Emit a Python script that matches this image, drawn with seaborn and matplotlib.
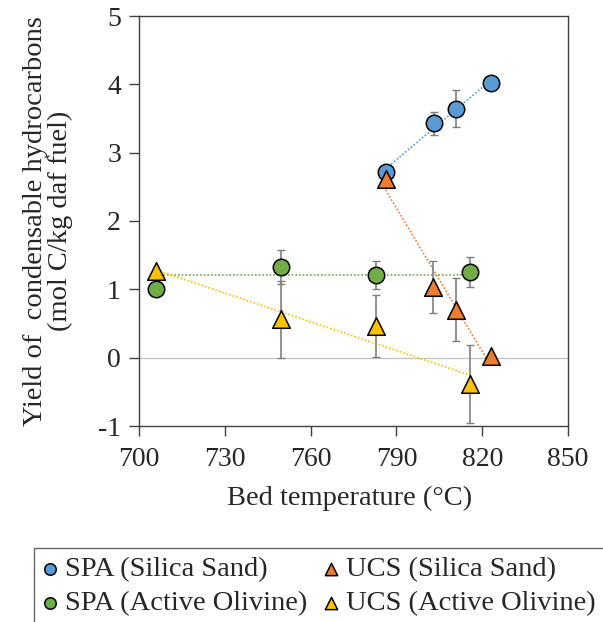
import matplotlib
matplotlib.use("Agg")
import matplotlib.pyplot as plt
import seaborn as sns
import numpy as np

# Bed temperature (°C) and yields (mol C/kg daf fuel)
spa_sand_t = [786.2, 803.1, 810.8, 823.0]
spa_sand_y = [2.72, 3.43, 3.64, 4.02]
spa_sand_err = [0.0, 0.17, 0.27, 0.0]

ucs_sand_t = [786.2, 802.7, 810.8, 823.0]
ucs_sand_y = [2.61, 1.04, 0.70, 0.02]
ucs_sand_err = [0.0, 0.38, 0.46, 0.0]

spa_oliv_t = [706.0, 749.8, 782.7, 815.7]
spa_oliv_y = [1.01, 1.33, 1.21, 1.26]
spa_oliv_err = [0.0, 0.25, 0.21, 0.22]

ucs_oliv_t = [706.0, 749.8, 782.7, 815.7]
ucs_oliv_y = [1.27, 0.56, 0.46, -0.39]
ucs_oliv_err = [0.0, 0.56, 0.45, 0.57]

labels = ["SPA (Silica Sand)", "SPA (Active Olivine)", "UCS (Silica Sand)", "UCS (Active Olivine)"]
colors = ["#5B9BD5", "#70AD47", "#ED7D31", "#FFC000"]
markers = ["o", "o", "^", "^"]
fit_order = [1, 0, 1, 1]  # olivine SPA trend is essentially flat (mean)

series = [
    (spa_sand_t, spa_sand_y, spa_sand_err),
    (spa_oliv_t, spa_oliv_y, spa_oliv_err),
    (ucs_sand_t, ucs_sand_y, ucs_sand_err),
    (ucs_oliv_t, ucs_oliv_y, ucs_oliv_err),
]

sns.set_style("ticks")
plt.rcParams["font.family"] = ["Liberation Serif", "DejaVu Serif"]
plt.rcParams["axes.unicode_minus"] = False

fig, ax = plt.subplots(figsize=(6.03, 6.22), dpi=100)
fig.subplots_adjust(left=139 / 603, right=568 / 603, top=1 - 16 / 622, bottom=1 - 426 / 622)

ax.axhline(0, color="#c0c0c0", lw=0.9, zorder=1)

for (t, y, e), lab, col, mk, order in zip(series, labels, colors, markers, fit_order):
    # dotted trendline
    line_kws = dict(color=col, lw=1.2, ls=(0, (1, 1.2)), zorder=2)
    if order == 1:
        sns.regplot(x=np.array(t), y=np.array(y), ax=ax, scatter=False, ci=None, line_kws=line_kws)
    else:
        xs = np.array([min(t), max(t)])
        ax.plot(xs, np.polyval(np.polyfit(t, y, 0), xs), **line_kws)
    ax.errorbar(t, y, yerr=e, fmt="none", ecolor="#7f7f7f", elinewidth=1.2,
                capsize=3, capthick=1, zorder=3)
    sns.scatterplot(x=t, y=y, ax=ax, color=col, marker=mk, s=140 if mk == "o" else 160,
                    edgecolor="black", linewidth=1.1, zorder=4, label=lab)

ax.set_xlim(700, 850)
ax.set_ylim(-1, 5)
ax.set_xticks(np.arange(700, 851, 30))
ax.set_yticks(np.arange(-1, 6, 1))
ax.tick_params(labelsize=20, direction="out", length=7, width=1, color="#404040")
ax.tick_params(axis="x", pad=8)
ax.tick_params(axis="y", pad=6)
for side in ["left", "right", "top", "bottom"]:
    ax.spines[side].set_visible(True)
    ax.spines[side].set_color("#404040")
    ax.spines[side].set_linewidth(1)

ax.set_xlabel("Bed temperature (°C)", fontsize=20.5)
ax.xaxis.set_label_coords(0.49, -0.145)
ax.set_ylabel("Yield of  condensable hydrocarbons\n(mol C/kg daf fuel)", fontsize=20.5,
              linespacing=0.95)
ax.yaxis.set_label_coords(-0.155, 0.5)

leg = ax.legend(loc="upper left", bbox_to_anchor=(34 / 603, 1 - 548 / 622),
                bbox_transform=fig.transFigure, ncol=2, fontsize=20.5,
                frameon=True, fancybox=False, edgecolor="#404040",
                markerscale=0.7, handletextpad=0.28, handlelength=0.5,
                columnspacing=0.6, borderpad=0.3, labelspacing=0.27, borderaxespad=0)
leg.get_frame().set_linewidth(1)

plt.savefig("out.png", dpi=100)
